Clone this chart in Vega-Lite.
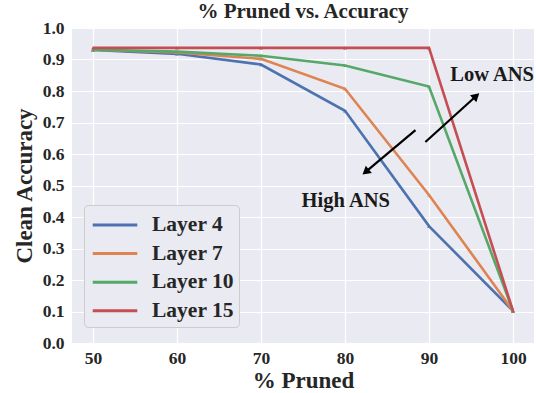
{
  "$schema": "https://vega.github.io/schema/vega-lite/v6.json",
  "width": 462,
  "height": 315,
  "autosize": {"type": "none"},
  "padding": {"left": 72, "top": 28, "right": 2, "bottom": 50},
  "background": "white",
  "title": {"text": "% Pruned vs. Accuracy", "font": "Liberation Serif", "fontSize": 21, "fontWeight": "bold", "color": "#262626", "anchor": "middle", "offset": -3},
  "config": {
    "view": {"fill": "#EAEAF2", "stroke": null},
    "axis": {
      "domain": false, "ticks": false, "gridColor": "white", "gridWidth": 1.2, "labelOverlap": false,
      "labelFont": "Liberation Serif", "labelFontSize": 17.5, "labelFontWeight": "bold", "labelColor": "#262626",
      "titleFont": "Liberation Serif", "titleFontSize": 23, "titleFontWeight": "bold", "titleColor": "#262626"
    }
  },
  "datasets": {
    "main": [
      {"pruned": 50, "acc": 0.930, "layer": "Layer 4"},
      {"pruned": 60, "acc": 0.918, "layer": "Layer 4"},
      {"pruned": 70, "acc": 0.884, "layer": "Layer 4"},
      {"pruned": 80, "acc": 0.737, "layer": "Layer 4"},
      {"pruned": 90, "acc": 0.371, "layer": "Layer 4"},
      {"pruned": 100, "acc": 0.102, "layer": "Layer 4"},
      {"pruned": 50, "acc": 0.931, "layer": "Layer 7"},
      {"pruned": 60, "acc": 0.922, "layer": "Layer 7"},
      {"pruned": 70, "acc": 0.902, "layer": "Layer 7"},
      {"pruned": 80, "acc": 0.807, "layer": "Layer 7"},
      {"pruned": 90, "acc": 0.470, "layer": "Layer 7"},
      {"pruned": 100, "acc": 0.102, "layer": "Layer 7"},
      {"pruned": 50, "acc": 0.931, "layer": "Layer 10"},
      {"pruned": 60, "acc": 0.925, "layer": "Layer 10"},
      {"pruned": 70, "acc": 0.912, "layer": "Layer 10"},
      {"pruned": 80, "acc": 0.881, "layer": "Layer 10"},
      {"pruned": 90, "acc": 0.814, "layer": "Layer 10"},
      {"pruned": 100, "acc": 0.102, "layer": "Layer 10"},
      {"pruned": 50, "acc": 0.937, "layer": "Layer 15"},
      {"pruned": 60, "acc": 0.937, "layer": "Layer 15"},
      {"pruned": 70, "acc": 0.937, "layer": "Layer 15"},
      {"pruned": 80, "acc": 0.937, "layer": "Layer 15"},
      {"pruned": 90, "acc": 0.937, "layer": "Layer 15"},
      {"pruned": 100, "acc": 0.102, "layer": "Layer 15"}
    ],
    "arrows": [
      {"x": 89.57, "y": 0.638, "x2": 95.62, "y2": 0.784, "angle": 48},
      {"x": 88.39, "y": 0.676, "x2": 82.46, "y2": 0.543, "angle": 230}
    ],
    "labels": [
      {"x": 97.51, "y": 0.851, "label": "Low ANS"},
      {"x": 80.09, "y": 0.451, "label": "High ANS"}
    ]
  },
  "layer": [
    {
      "data": {"name": "main"},
      "mark": {"type": "line", "strokeWidth": 2.6},
      "encoding": {
        "x": {"field": "pruned", "type": "quantitative", "scale": {"domain": [47.5, 102.5], "nice": false, "zero": false},
              "axis": {"values": [50, 60, 70, 80, 90, 100], "title": "% Pruned", "labelPadding": 6, "titlePadding": 3, "labelOverlap": false}},
        "y": {"field": "acc", "type": "quantitative", "scale": {"domain": [0, 1], "nice": false},
              "axis": {"values": [0, 0.1, 0.2, 0.3, 0.4, 0.5, 0.6, 0.7, 0.8, 0.9, 1.0], "format": ".1f", "title": "Clean Accuracy", "labelPadding": 8, "titlePadding": 6, "labelOverlap": false, "labelBound": false, "tickCount": 11}},
        "color": {"field": "layer", "type": "nominal",
                  "scale": {"domain": ["Layer 4", "Layer 7", "Layer 10", "Layer 15"], "range": ["#4C72B0", "#DD8452", "#55A868", "#C44E52"]},
                  "legend": {"title": null, "orient": "none", "legendX": 12, "legendY": 177,
                             "symbolType": "M-1.65,0L1.65,0", "symbolSize": 729, "symbolStrokeWidth": 3, "symbolOffset": 11,
                             "labelFont": "Liberation Serif", "labelFontSize": 21.5, "labelFontWeight": "bold", "labelColor": "#262626",
                             "labelOffset": 22, "rowPadding": 2.6, "padding": 5,
                             "fillColor": "#EAEAF2", "strokeColor": "#CCCCCC", "cornerRadius": 4}}
      }
    },
    {
      "data": {"name": "main"},
      "mark": {"type": "point", "shape": "triangle-up", "size": 14, "filled": true, "opacity": 1},
      "encoding": {
        "x": {"field": "pruned", "type": "quantitative"},
        "y": {"field": "acc", "type": "quantitative"},
        "color": {"field": "layer", "type": "nominal", "legend": null}
      }
    },
    {
      "data": {"name": "arrows"},
      "mark": {"type": "rule", "color": "black", "strokeWidth": 2.2},
      "encoding": {
        "x": {"field": "x", "type": "quantitative"},
        "y": {"field": "y", "type": "quantitative"},
        "x2": {"field": "x2"},
        "y2": {"field": "y2"}
      }
    },
    {
      "data": {"name": "arrows"},
      "mark": {"type": "point", "shape": "triangle-up", "size": 90, "filled": true, "color": "black", "opacity": 1},
      "encoding": {
        "x": {"field": "x2", "type": "quantitative"},
        "y": {"field": "y2", "type": "quantitative"},
        "angle": {"field": "angle", "type": "quantitative", "scale": null}
      }
    },
    {
      "data": {"name": "labels"},
      "mark": {"type": "text", "font": "Liberation Serif", "fontSize": 20.5, "fontWeight": "bold", "color": "#1a1a1a"},
      "encoding": {
        "x": {"field": "x", "type": "quantitative"},
        "y": {"field": "y", "type": "quantitative"},
        "text": {"field": "label"}
      }
    }
  ]
}
